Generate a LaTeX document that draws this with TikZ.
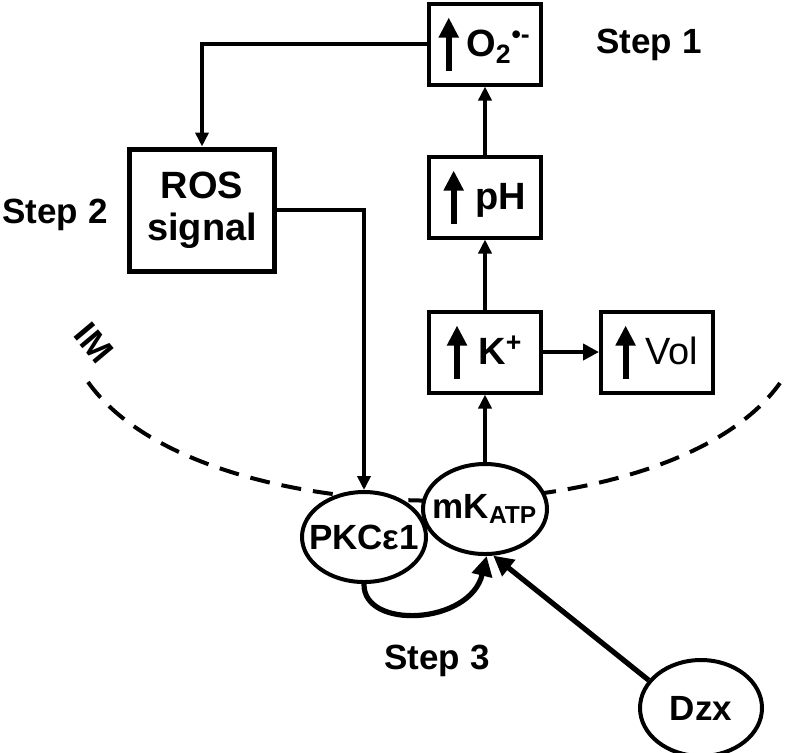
\documentclass[tikz,border=0pt]{standalone}
\usepackage{fontspec}
\setmainfont{Liberation Sans}
\usetikzlibrary{arrows.meta,shapes.geometric}
\newcommand\uparr{\tikz[baseline=0pt]\draw[line width=3pt,-{Triangle[width=9.5pt,length=10pt]}] (0,-7pt) -- (0,19.5pt);}
\begin{document}
\begin{tikzpicture}[x=0.5pt,y=-0.5pt,
    every node/.style={font=\fontsize{17.5}{21}\selectfont\bfseries},
    box/.style={draw,line width=2pt,minimum width=56pt,minimum height=40.5pt,inner sep=0pt,font=\fontsize{19}{21}\selectfont\bfseries},
    oval/.style={draw,ellipse,line width=2pt,fill=white,inner xsep=-7pt,inner ysep=0pt,minimum width=62pt,minimum height=45pt},
    link/.style={line width=1.8pt,-{Triangle[width=6.5pt,length=7pt]}},
    heavy link/.style={line width=2.6pt,-{Triangle[width=10pt,length=10pt]}}]
    \useasboundingbox (0,0) rectangle (796,752);
    \draw[line width=2pt,dash pattern=on 10pt off 6pt] (88,382) .. controls (200,540) and (668,540) .. (780,383);
    \node[box] (o2) at (485,44) {\uparr\hspace{4pt}O\textsubscript{2}\textsuperscript{•-}};
    \node[box] (ph) at (485,197) {\uparr\hspace{6pt}pH};
    \node[box] (k) at (485,352) {\uparr\hspace{6pt}K\textsuperscript{+}};
    \node[box] (vol) at (657,352) {\uparr\hspace{5pt}{\mdseries Vol}};
    \node[box,line width=2.5pt,minimum width=72.5pt,minimum height=61pt,align=center] (ros) at (202,210) {ROS\\signal};
    \node[oval] (pkc) at (364,537) {PKCε1};
    \node[oval] (mk) at (485,509) {mK\textsubscript{ATP}};
    \node[oval,minimum width=61pt,minimum height=48pt] (dzx) at (701,708) {Dzx};
    \node[anchor=base] (s1) at (649,53) {Step 1};
    \node[anchor=base] (s2) at (55,223) {Step 2};
    \node[anchor=base] (s3) at (437,669) {Step 3};
    \node[rotate=-50,inner sep=0pt] (im) at (94,343) {IM};
    \draw[link] (o2) -| (ros);
    \draw[link] (ros) -| (pkc);
    \draw[link] (mk) -- (k);
    \draw[link] (k) -- (ph);
    \draw[link] (ph) -- (o2);
    \draw[line width=2.2pt,-{Triangle[width=8pt,length=8pt]}] (k) -- (vol);
    \draw[heavy link] (pkc.south) .. controls (363,630) and (470,625) .. (mk.-88);
    \draw[heavy link] (dzx.152) -- (mk.-80);
\end{tikzpicture}
\end{document}
